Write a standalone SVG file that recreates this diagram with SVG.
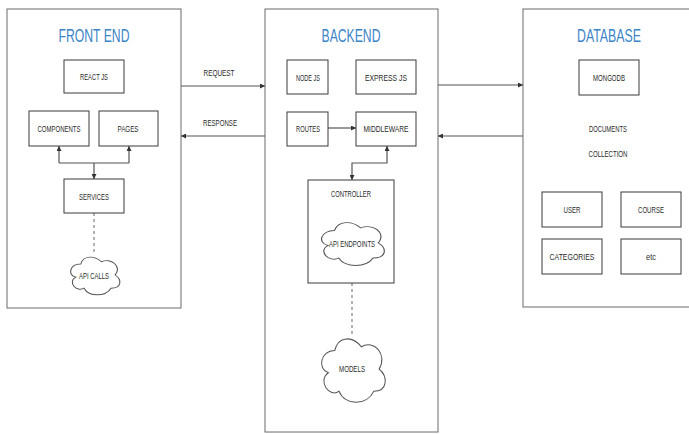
<svg xmlns="http://www.w3.org/2000/svg" width="689" height="434" viewBox="0 0 689 434">
<defs>
<style>
.bg{fill:#ffffff}
.frame{fill:#ffffff;stroke:#6a6a6a;stroke-width:1}
.box{fill:#ffffff;stroke:#3a3a3a;stroke-width:1}
.cloud{fill:#ffffff;stroke:#555555}
.title{font-family:"Liberation Sans",Arial,sans-serif;font-size:18.5px;fill:#3b84c8;text-anchor:middle}
.lbl{font-family:"Liberation Sans",Arial,sans-serif;font-size:9.5px;fill:#2a2a2a;text-anchor:middle}
.con{fill:none;stroke:#555555;stroke-width:1.2}
.dash{fill:none;stroke:#666666;stroke-width:1;stroke-dasharray:3,3}
</style>
<marker id="ah" viewBox="0 0 10 10" refX="10" refY="5" markerWidth="5" markerHeight="5" orient="auto-start-reverse" markerUnits="userSpaceOnUse">
<path d="M0,0 L10,5 L0,10 z" fill="#333333"/>
</marker>
<path id="cloudShape" d="M25,25 C5,25 0,50 16,55 C0,66 18,90 31,80 C40,100 70,100 80,80 C100,80 100,60 87.5,50 C100,30 80,10 62.5,20 C50,5 30,5 25,25 Z"/>
</defs>
<rect class="bg" x="0" y="0" width="689" height="434"/>

<g id="frontend">
<rect class="frame" x="7" y="9" width="174" height="299"/>
<text class="title" x="94" y="42" textLength="71" lengthAdjust="spacingAndGlyphs">FRONT END</text>
</g>
<g id="backend">
<rect class="frame" x="265" y="9" width="173" height="423"/>
<text class="title" x="351" y="42" textLength="59" lengthAdjust="spacingAndGlyphs">BACKEND</text>
</g>
<g id="database">
<rect class="frame" x="523" y="9" width="170" height="298"/>
<text class="title" x="609" y="42" textLength="64" lengthAdjust="spacingAndGlyphs">DATABASE</text>
</g>

<g id="connectors">
<line class="con" x1="181" y1="86" x2="265" y2="86" marker-end="url(#ah)"/>
<line class="con" x1="265" y1="136" x2="181" y2="136" marker-end="url(#ah)"/>
<line class="con" x1="438" y1="85" x2="523" y2="85" marker-end="url(#ah)"/>
<line class="con" x1="523" y1="136" x2="438" y2="136" marker-end="url(#ah)"/>
<line class="con" x1="59" y1="163" x2="129" y2="163"/>
<line class="con" x1="59" y1="163" x2="59" y2="146" marker-end="url(#ah)"/>
<line class="con" x1="129" y1="163" x2="129" y2="146" marker-end="url(#ah)"/>
<line class="con" x1="94" y1="163" x2="94" y2="179" marker-end="url(#ah)"/>
<line class="con" x1="328" y1="128" x2="356" y2="128" marker-end="url(#ah)"/>
<path class="con" d="M387,146 L387,163 L352,163 L352,180" marker-start="url(#ah)" marker-end="url(#ah)"/>
<line class="dash" x1="94" y1="213" x2="94" y2="254"/>
<line class="dash" x1="352" y1="283" x2="352" y2="334"/>
</g>

<g id="edge-labels">
<text class="lbl" x="219" y="76" textLength="31" lengthAdjust="spacingAndGlyphs">REQUEST</text>
<text class="lbl" x="220" y="126" textLength="34" lengthAdjust="spacingAndGlyphs">RESPONSE</text>
</g>

<g id="reactjs"><rect class="box" x="64" y="60" width="60" height="33"/><text class="lbl" x="94" y="80" textLength="28" lengthAdjust="spacingAndGlyphs">REACT JS</text></g>
<g id="components"><rect class="box" x="29" y="111" width="60" height="35"/><text class="lbl" x="59" y="132" textLength="43" lengthAdjust="spacingAndGlyphs">COMPONENTS</text></g>
<g id="pages"><rect class="box" x="99" y="111" width="59" height="35"/><text class="lbl" x="128" y="132" textLength="21" lengthAdjust="spacingAndGlyphs">PAGES</text></g>
<g id="services"><rect class="box" x="64" y="179" width="60" height="34"/><text class="lbl" x="94" y="200" textLength="30" lengthAdjust="spacingAndGlyphs">SERVICES</text></g>
<g id="apicalls"><use href="#cloudShape" class="cloud" transform="translate(67,253) scale(0.55,0.44)" style="stroke-width:2"/><text class="lbl" x="94" y="279" textLength="30" lengthAdjust="spacingAndGlyphs">API CALLS</text></g>

<g id="nodejs"><rect class="box" x="287" y="60" width="41" height="34"/><text class="lbl" x="308" y="81" textLength="24" lengthAdjust="spacingAndGlyphs">NODE JS</text></g>
<g id="expressjs"><rect class="box" x="356" y="60" width="60" height="34"/><text class="lbl" x="386" y="81" textLength="42" lengthAdjust="spacingAndGlyphs">EXPRESS JS</text></g>
<g id="routes"><rect class="box" x="287" y="112" width="41" height="34"/><text class="lbl" x="308" y="132" textLength="24" lengthAdjust="spacingAndGlyphs">ROUTES</text></g>
<g id="middleware"><rect class="box" x="356" y="112" width="60" height="34"/><text class="lbl" x="386" y="132" textLength="45" lengthAdjust="spacingAndGlyphs">MIDDLEWARE</text></g>
<g id="controller"><rect class="box" x="308" y="180" width="86" height="103"/><text class="lbl" x="351" y="197" textLength="40" lengthAdjust="spacingAndGlyphs">CONTROLLER</text></g>
<g id="apiendpoints"><use href="#cloudShape" class="cloud" transform="translate(317,218) scale(0.7,0.5)" style="stroke-width:1.7"/><text class="lbl" x="352" y="247" textLength="46" lengthAdjust="spacingAndGlyphs">API ENDPOINTS</text></g>
<g id="models"><use href="#cloudShape" class="cloud" transform="translate(317,332) scale(0.71,0.74)" style="stroke-width:1.4"/><text class="lbl" x="352" y="372" textLength="26" lengthAdjust="spacingAndGlyphs">MODELS</text></g>

<g id="mongodb"><rect class="box" x="579" y="60" width="60" height="35"/><text class="lbl" x="609" y="81" textLength="32" lengthAdjust="spacingAndGlyphs">MONGODB</text></g>
<g id="documents"><text class="lbl" x="608" y="132" textLength="38" lengthAdjust="spacingAndGlyphs">DOCUMENTS</text></g>
<g id="collection"><text class="lbl" x="608" y="157" textLength="39" lengthAdjust="spacingAndGlyphs">COLLECTION</text></g>
<g id="user"><rect class="box" x="542" y="192" width="60" height="35"/><text class="lbl" x="572" y="213" textLength="17" lengthAdjust="spacingAndGlyphs">USER</text></g>
<g id="course"><rect class="box" x="621" y="192" width="60" height="35"/><text class="lbl" x="651" y="213" textLength="26" lengthAdjust="spacingAndGlyphs">COURSE</text></g>
<g id="categories"><rect class="box" x="542" y="239" width="60" height="35"/><text class="lbl" x="572" y="260" textLength="45" lengthAdjust="spacingAndGlyphs">CATEGORIES</text></g>
<g id="etc"><rect class="box" x="621" y="239" width="60" height="35"/><text class="lbl" x="651" y="260" textLength="10" lengthAdjust="spacingAndGlyphs">etc</text></g>
</svg>
